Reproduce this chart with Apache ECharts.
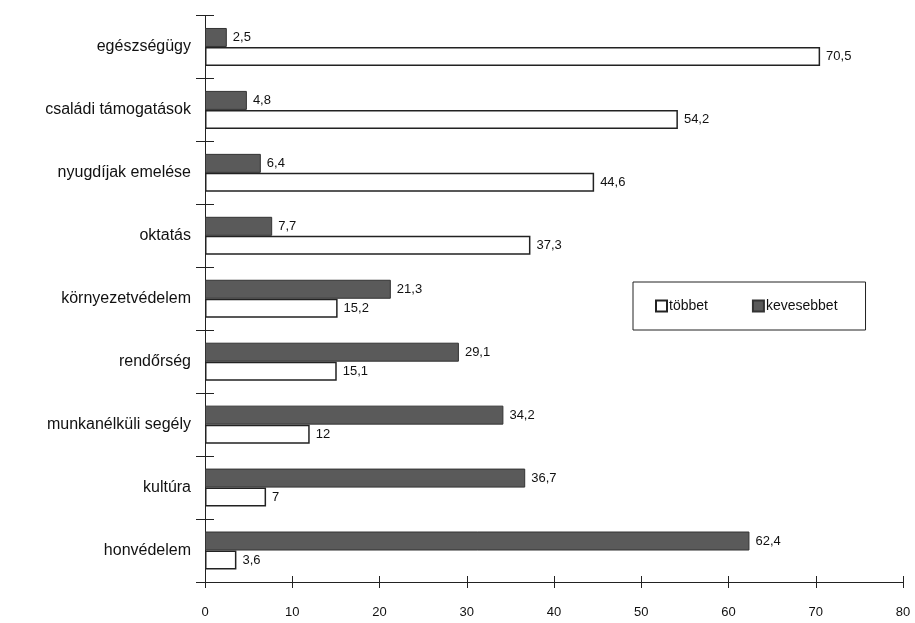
<!DOCTYPE html>
<html><head><meta charset="utf-8">
<script src="https://cdn.jsdelivr.net/npm/echarts@6/dist/echarts.min.js"></script>
<style>html,body{margin:0;padding:0;background:#fff}#c{width:915px;height:623px}</style>
</head><body><div id="c"></div>
<script>
var categories = ['egészségügy','családi támogatások','nyugdíjak emelése','oktatás','környezetvédelem','rendőrség','munkanélküli segély','kultúra','honvédelem'];
var tobbet = [70.5, 54.2, 44.6, 37.3, 15.2, 15.1, 12, 7, 3.6];
var kevesebbet = [2.5, 4.8, 6.4, 7.7, 21.3, 29.1, 34.2, 36.7, 62.4];
var xTicks = [0,10,20,30,40,50,60,70,80];

var font = 'Arial, "Liberation Sans", sans-serif';
var fmt = function(p){ return String(p.value).replace('.', ','); };
var chart = echarts.init(document.getElementById('c'));
chart.setOption({
  animation: false,
  backgroundColor: '#fff',
  textStyle: {fontFamily: font},
  legend: {
    data: ['többet','kevesebbet'],
    left: 633, top: 282,
    padding: [17, 28, 17, 22],
    itemGap: 44,
    itemWidth: 11, itemHeight: 11,
    borderColor: '#222', borderWidth: 1,
    textStyle: {fontFamily: font, fontSize: 14, color: '#111', padding: [0,0,0,-3]},
    icon: 'rect'
  },
  grid: {left: 205, right: 12, top: 15.5, bottom: 41, containLabel: false},
  xAxis: [{
    type: 'value', min: 0, max: 80, interval: 10,
    axisLine: {show: true, lineStyle: {color: '#222', width: 1}},
    axisTick: {show: true, length: 6, lineStyle: {color: '#222'}},
    splitLine: {show: false},
    axisLabel: {fontSize: 13, color: '#111', margin: 24, fontFamily: font,
      formatter: function(v){ return xTicks.indexOf(v) >= 0 ? String(v) : ''; }}
  },{
    type: 'value', min: 0, max: 80, interval: 10, position: 'bottom',
    axisLine: {show: false},
    axisTick: {show: true, inside: true, length: 6, lineStyle: {color: '#222'}},
    axisLabel: {show: false}, splitLine: {show: false}
  }],
  yAxis: [{
    type: 'category', data: categories, inverse: true,
    axisLine: {show: true, lineStyle: {color: '#222', width: 1}},
    axisTick: {show: true, length: 9, lineStyle: {color: '#222'}},
    axisLabel: {fontSize: 16, color: '#111', margin: 14, fontFamily: font}
  },{
    type: 'category', data: categories, inverse: true, position: 'left',
    axisLine: {show: false},
    axisTick: {show: true, inside: true, length: 9, lineStyle: {color: '#222'}},
    axisLabel: {show: false}
  }],
  series: [{
    name: 'kevesebbet', type: 'bar', data: kevesebbet,
    barWidth: 19, barGap: '0%',
    itemStyle: {color: '#5a5a5a', borderColor: '#333', borderWidth: 1},
    label: {show: true, position: 'right', distance: 6, fontSize: 13, color: '#111', fontFamily: font, formatter: fmt}
  },{
    name: 'többet', type: 'bar', data: tobbet,
    barWidth: 19, barGap: '0%',
    itemStyle: {color: '#fff', borderColor: '#222', borderWidth: 1.5},
    label: {show: true, position: 'right', distance: 6, fontSize: 13, color: '#111', fontFamily: font, formatter: fmt}
  }]
});
</script></body></html>
